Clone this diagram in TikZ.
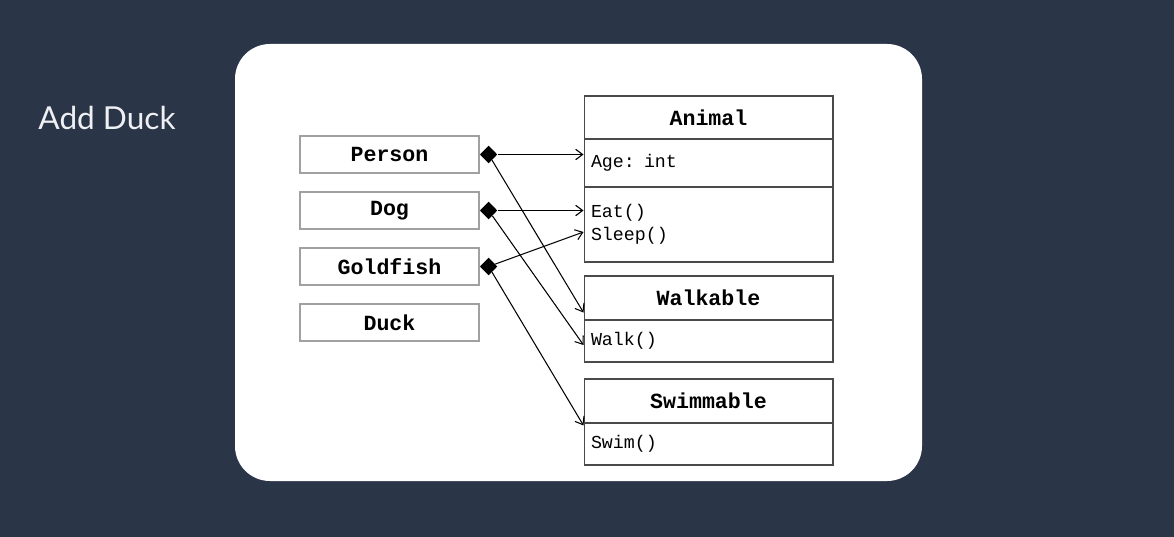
\documentclass[tikz,border=0pt]{standalone}
\usepackage{fontspec}
\setmonofont{Liberation Mono}
\newfontfamily\titlefont{Lato}
\usetikzlibrary{shapes.geometric, arrows.meta}
\definecolor{slideBg}{HTML}{2B3548}
\definecolor{titleInk}{HTML}{EEF0F3}
\definecolor{boxLight}{HTML}{A0A0A0}
\definecolor{boxDark}{HTML}{4A4A4A}
\tikzset{
  classbox/.style={draw=boxLight, line width=0.6pt, fill=white, minimum width=3.58cm, minimum height=0.74cm, inner sep=0pt, font=\ttfamily\bfseries\fontsize{12.3}{14}\selectfont},
  headbox/.style={draw=boxDark, line width=0.6pt, fill=white, minimum width=4.98cm, minimum height=0.88cm, inner sep=0pt, font=\ttfamily\bfseries\fontsize{12.3}{14}\selectfont},
  membox/.style={draw=boxDark, line width=0.6pt, fill=white, minimum width=4.98cm, inner xsep=0.14cm, inner ysep=0pt, text width=4.7cm, align=left, font=\ttfamily\fontsize{10.4}{13}\selectfont},
  owns/.style={diamond, fill=black, minimum width=0.35cm, minimum height=0.36cm, inner sep=0pt},
  link/.style={black, line width=0.6pt, -{Straight Barb[length=4pt, width=6pt]}}
}

\begin{document}
\begin{tikzpicture}[x=0.02cm, y=-0.02cm]
  \fill[slideBg] (0,0) rectangle (1174,537);
  \fill[white, rounded corners=0.7cm] (235,44) rectangle (922,481);
  \node[text=titleInk, font=\titlefont\fontsize{18}{20}\selectfont] (title) at (107,118) {Add Duck};

  % classes on the left
  \node[classbox] (person) at (389.5,154.5) {Person};
  \node[classbox] (dog) at (389.5,210.5) {Dog};
  \node[classbox] (goldfish) at (389.5,266.5) {Goldfish};
  \node[classbox] (duck) at (389.5,322.5) {Duck};

  % classes on the right
  \node[headbox, minimum height=0.86cm] (animalHead) at (708.5,117.5) {Animal};
  \node[membox, minimum height=0.96cm] (animalAttr) at (708.5,163) {Age: int};
  \node[membox, minimum height=1.5cm] (animalOps) at (708.5,224.5) {Eat()\\Sleep()};
  \node[headbox] (walkHead) at (708.5,298) {Walkable};
  \node[membox, minimum height=0.84cm] (walkBody) at (708.5,341) {Walk()};
  \node[headbox] (swimHead) at (708.5,401) {Swimmable};
  \node[membox, minimum height=0.84cm] (swimBody) at (708.5,444) {Swim()};

  % composition ends
  \node[owns, anchor=west] (pdia) at (person.east) {};
  \node[owns, anchor=west] (ddia) at (dog.east) {};
  \node[owns, anchor=west] (gdia) at (goldfish.east) {};

  \draw[link] (pdia) -- (animalAttr.west |- pdia);
  \draw[link] (pdia) -- ([yshift=0.16cm]walkHead.south west);
  \draw[link] (ddia) -- (animalOps.west |- ddia);
  \draw[link] (ddia) -- ([yshift=-0.08cm]walkBody.west);
  \draw[link] (gdia) -- ([yshift=-0.15cm]animalOps.west);
  \draw[link] (gdia) -- ([yshift=-0.06cm]swimBody.north west);
\end{tikzpicture}
\end{document}
